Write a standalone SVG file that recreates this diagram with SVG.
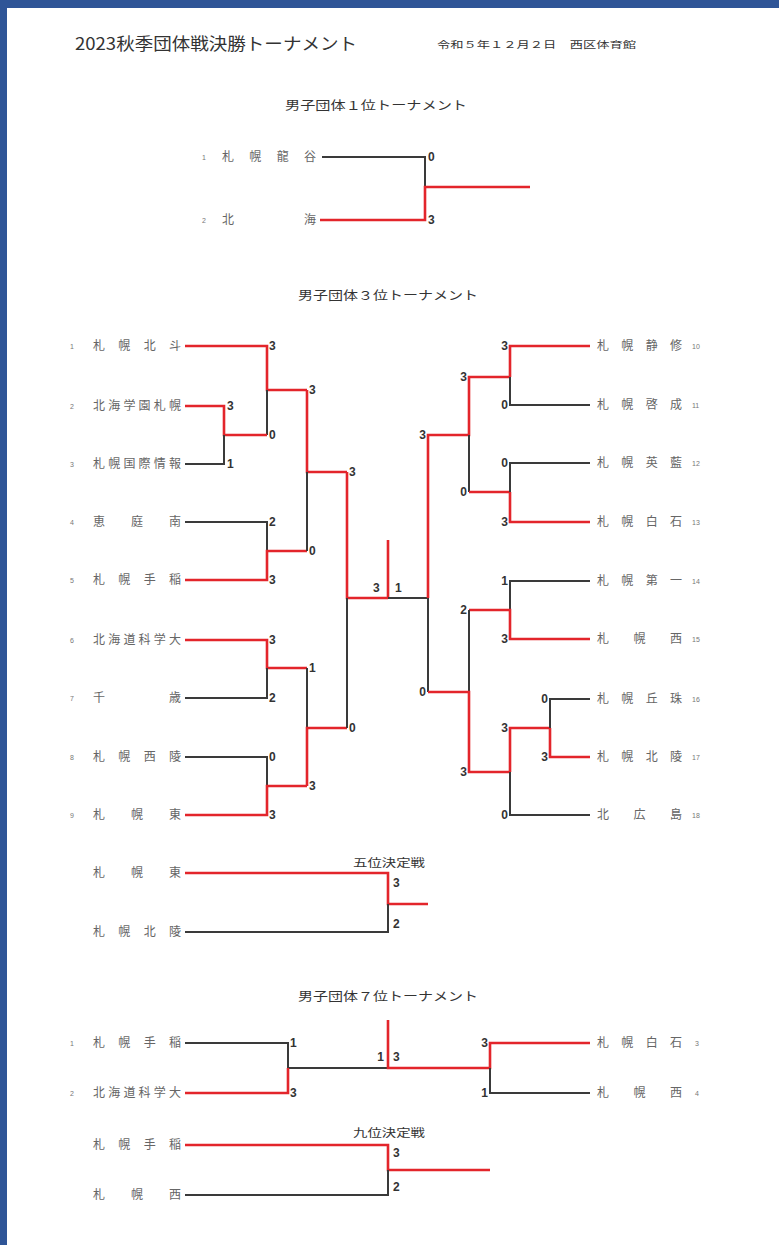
<svg xmlns="http://www.w3.org/2000/svg" width="779" height="1245" viewBox="0 0 779 1245">
<style>
.t{font-family:"Noto Sans CJK JP","Noto Sans",sans-serif;fill:#555}
.h{font-family:"Noto Sans CJK JP",sans-serif;fill:#333}
.nm{font-family:"Noto Sans CJK JP",sans-serif;font-size:12px;fill:#666}
.no{font-family:"Liberation Sans",sans-serif;font-size:7px;fill:#777}
.sc{font-family:"Liberation Sans",sans-serif;font-size:12px;font-weight:bold;fill:#333}
.scr{font-family:"Liberation Sans",sans-serif;font-size:12px;font-weight:bold;fill:#333;text-anchor:end}
.r{fill:none;stroke:#e3252b;stroke-width:2.6}
.b{fill:none;stroke:#3a3a3a;stroke-width:2}
</style>
<rect x="0" y="0" width="779" height="1245" fill="#2f5597"/>
<rect x="7" y="8" width="772" height="1237" fill="#ffffff"/>

<g id="header">
<text class="h" x="75" y="50" font-size="17" textLength="282" lengthAdjust="spacingAndGlyphs">2023秋季団体戦決勝トーナメント</text>
<text class="h" x="437" y="48" font-size="9" textLength="199" lengthAdjust="spacingAndGlyphs">令和５年１２月２日　西区体育館</text>
<text class="h" x="285" y="110" font-size="12" textLength="182" lengthAdjust="spacingAndGlyphs">男子団体１位トーナメント</text>
<text class="h" x="298" y="300" font-size="12" textLength="180" lengthAdjust="spacingAndGlyphs">男子団体３位トーナメント</text>
<text class="h" x="298" y="1001" font-size="12" textLength="180" lengthAdjust="spacingAndGlyphs">男子団体７位トーナメント</text>
<text class="h" x="353" y="867" font-size="11" textLength="72" lengthAdjust="spacingAndGlyphs">五位決定戦</text>
<text class="h" x="353" y="1137" font-size="11" textLength="72" lengthAdjust="spacingAndGlyphs">九位決定戦</text>
</g>

<g id="connectors">
<!-- 1st place -->
<path class="b" d="M322,157 H425 V187"/>
<path class="r" d="M320,220 H425 V187 H530"/>
<!-- 3rd place left -->
<path class="r" d="M185,346 H267 V390 H307"/>
<path class="b" d="M267,390 V435"/>
<path class="r" d="M185,406 H224 V435 H267"/>
<path class="b" d="M224,435 V464 H185"/>
<path class="b" d="M185,522 H267 V551"/>
<path class="r" d="M185,580 H267 V551 H307"/>
<path class="r" d="M185,640 H267 V668 H307"/>
<path class="b" d="M267,668 V698 H185"/>
<path class="b" d="M185,757 H267 V786"/>
<path class="r" d="M185,815 H267 V786 H307"/>
<path class="r" d="M307,390 V472 H347"/>
<path class="b" d="M307,472 V551"/>
<path class="b" d="M307,668 V728"/>
<path class="r" d="M307,786 V728 H347"/>
<path class="r" d="M347,472 V598 H388"/>
<path class="b" d="M347,598 V728"/>
<!-- center -->
<path class="r" d="M388,540 V598"/>
<path class="b" d="M388,598 H428 V692"/>
<!-- 3rd place right -->
<path class="r" d="M428,598 V435 H469 V377 H510"/>
<path class="b" d="M469,435 V492"/>
<path class="r" d="M469,492 H510"/>
<path class="r" d="M590,346 H510 V377"/>
<path class="b" d="M510,377 V405 H590"/>
<path class="b" d="M590,463 H510 V492"/>
<path class="r" d="M510,492 V522 H590"/>
<path class="b" d="M590,581 H510 V610"/>
<path class="r" d="M469,610 H510 V639 H590"/>
<path class="b" d="M469,610 V692"/>
<path class="r" d="M428,692 H469 V772 H510"/>
<path class="r" d="M510,772 V728 H550"/>
<path class="b" d="M510,772 V815 H590"/>
<path class="b" d="M590,699 H550 V728"/>
<path class="r" d="M550,728 V757 H590"/>
<!-- 5th place -->
<path class="r" d="M185,873 H388 V904 H428"/>
<path class="b" d="M185,932 H388 V904"/>
<!-- 7th place -->
<path class="b" d="M185,1043 H288 V1068 H388"/>
<path class="r" d="M185,1093 H288 V1068"/>
<path class="r" d="M388,1020 V1068 H490 V1043 H590"/>
<path class="b" d="M490,1068 V1093 H590"/>
<!-- 9th place -->
<path class="r" d="M185,1145 H388 V1170 H490"/>
<path class="b" d="M185,1195 H388 V1170"/>
</g>

<g id="scores">
<text class="sc" x="428" y="161">0</text>
<text class="sc" x="428" y="224">3</text>
<text class="sc" x="269" y="350">3</text>
<text class="sc" x="227" y="410">3</text>
<text class="sc" x="269" y="439">0</text>
<text class="sc" x="227" y="468">1</text>
<text class="sc" x="269" y="526">2</text>
<text class="sc" x="269" y="584">3</text>
<text class="sc" x="269" y="644">3</text>
<text class="sc" x="269" y="702">2</text>
<text class="sc" x="269" y="761">0</text>
<text class="sc" x="269" y="819">3</text>
<text class="sc" x="309" y="394">3</text>
<text class="sc" x="309" y="555">0</text>
<text class="sc" x="309" y="672">1</text>
<text class="sc" x="309" y="790">3</text>
<text class="sc" x="349" y="476">3</text>
<text class="sc" x="349" y="732">0</text>
<text class="sc" x="373" y="592">3</text>
<text class="sc" x="395" y="592">1</text>
<text class="scr" x="508" y="350">3</text>
<text class="scr" x="508" y="409">0</text>
<text class="scr" x="508" y="467">0</text>
<text class="scr" x="508" y="526">3</text>
<text class="scr" x="508" y="585">1</text>
<text class="scr" x="508" y="643">3</text>
<text class="scr" x="508" y="732">3</text>
<text class="scr" x="508" y="819">0</text>
<text class="scr" x="548" y="703">0</text>
<text class="scr" x="548" y="761">3</text>
<text class="scr" x="467" y="381">3</text>
<text class="scr" x="467" y="496">0</text>
<text class="scr" x="467" y="614">2</text>
<text class="scr" x="467" y="776">3</text>
<text class="scr" x="426" y="439">3</text>
<text class="scr" x="426" y="696">0</text>
<text class="sc" x="393" y="887">3</text>
<text class="sc" x="393" y="928">2</text>
<text class="sc" x="290" y="1047">1</text>
<text class="sc" x="290" y="1097">3</text>
<text class="scr" x="384" y="1061">1</text>
<text class="sc" x="393" y="1061">3</text>
<text class="scr" x="488" y="1047">3</text>
<text class="scr" x="488" y="1097">1</text>
<text class="sc" x="393" y="1157">3</text>
<text class="sc" x="393" y="1191">2</text>
</g>

<g id="t1-1"><text class="no" x="202" y="160">1</text><text class="nm" x="222" y="161" textLength="94" lengthAdjust="spacing">札 幌 龍 谷</text></g>
<g id="t1-2"><text class="no" x="202" y="223">2</text><text class="nm" x="222" y="224" textLength="94" lengthAdjust="spacing">北 海</text></g>

<g id="n1"><text class="no" x="70" y="349">1</text><text class="nm" x="93" y="350" textLength="88" lengthAdjust="spacing">札 幌 北 斗</text></g>
<g id="n2"><text class="no" x="70" y="409">2</text><text class="nm" x="93" y="410" textLength="88" lengthAdjust="spacing">北海学園札幌</text></g>
<g id="n3"><text class="no" x="70" y="467">3</text><text class="nm" x="93" y="468" textLength="88" lengthAdjust="spacing">札幌国際情報</text></g>
<g id="n4"><text class="no" x="70" y="525">4</text><text class="nm" x="93" y="526" textLength="88" lengthAdjust="spacing">恵 庭 南</text></g>
<g id="n5"><text class="no" x="70" y="583">5</text><text class="nm" x="93" y="584" textLength="88" lengthAdjust="spacing">札 幌 手 稲</text></g>
<g id="n6"><text class="no" x="70" y="643">6</text><text class="nm" x="93" y="644" textLength="88" lengthAdjust="spacing">北海道科学大</text></g>
<g id="n7"><text class="no" x="70" y="701">7</text><text class="nm" x="93" y="702" textLength="88" lengthAdjust="spacing">千 歳</text></g>
<g id="n8"><text class="no" x="70" y="760">8</text><text class="nm" x="93" y="761" textLength="88" lengthAdjust="spacing">札 幌 西 陵</text></g>
<g id="n9"><text class="no" x="70" y="818">9</text><text class="nm" x="93" y="819" textLength="88" lengthAdjust="spacing">札 幌 東</text></g>

<g id="n10"><text class="nm" x="597" y="350" textLength="85" lengthAdjust="spacing">札 幌 静 修</text><text class="no" x="692" y="349">10</text></g>
<g id="n11"><text class="nm" x="597" y="409" textLength="85" lengthAdjust="spacing">札 幌 啓 成</text><text class="no" x="692" y="408">11</text></g>
<g id="n12"><text class="nm" x="597" y="467" textLength="85" lengthAdjust="spacing">札 幌 英 藍</text><text class="no" x="692" y="466">12</text></g>
<g id="n13"><text class="nm" x="597" y="526" textLength="85" lengthAdjust="spacing">札 幌 白 石</text><text class="no" x="692" y="525">13</text></g>
<g id="n14"><text class="nm" x="597" y="585" textLength="85" lengthAdjust="spacing">札 幌 第 一</text><text class="no" x="692" y="584">14</text></g>
<g id="n15"><text class="nm" x="597" y="643" textLength="85" lengthAdjust="spacing">札 幌 西</text><text class="no" x="692" y="642">15</text></g>
<g id="n16"><text class="nm" x="597" y="703" textLength="85" lengthAdjust="spacing">札 幌 丘 珠</text><text class="no" x="692" y="702">16</text></g>
<g id="n17"><text class="nm" x="597" y="761" textLength="85" lengthAdjust="spacing">札 幌 北 陵</text><text class="no" x="692" y="760">17</text></g>
<g id="n18"><text class="nm" x="597" y="819" textLength="85" lengthAdjust="spacing">北 広 島</text><text class="no" x="692" y="818">18</text></g>

<g id="p5-1"><text class="nm" x="93" y="877" textLength="88" lengthAdjust="spacing">札 幌 東</text></g>
<g id="p5-2"><text class="nm" x="93" y="936" textLength="88" lengthAdjust="spacing">札 幌 北 陵</text></g>

<g id="p7-1"><text class="no" x="70" y="1046">1</text><text class="nm" x="93" y="1047" textLength="88" lengthAdjust="spacing">札 幌 手 稲</text></g>
<g id="p7-2"><text class="no" x="70" y="1096">2</text><text class="nm" x="93" y="1097" textLength="88" lengthAdjust="spacing">北海道科学大</text></g>
<g id="p7-3"><text class="nm" x="597" y="1047" textLength="85" lengthAdjust="spacing">札 幌 白 石</text><text class="no" x="695" y="1046">3</text></g>
<g id="p7-4"><text class="nm" x="597" y="1097" textLength="85" lengthAdjust="spacing">札 幌 西</text><text class="no" x="695" y="1096">4</text></g>

<g id="p9-1"><text class="nm" x="93" y="1149" textLength="88" lengthAdjust="spacing">札 幌 手 稲</text></g>
<g id="p9-2"><text class="nm" x="93" y="1199" textLength="88" lengthAdjust="spacing">札 幌 西</text></g>
</svg>
